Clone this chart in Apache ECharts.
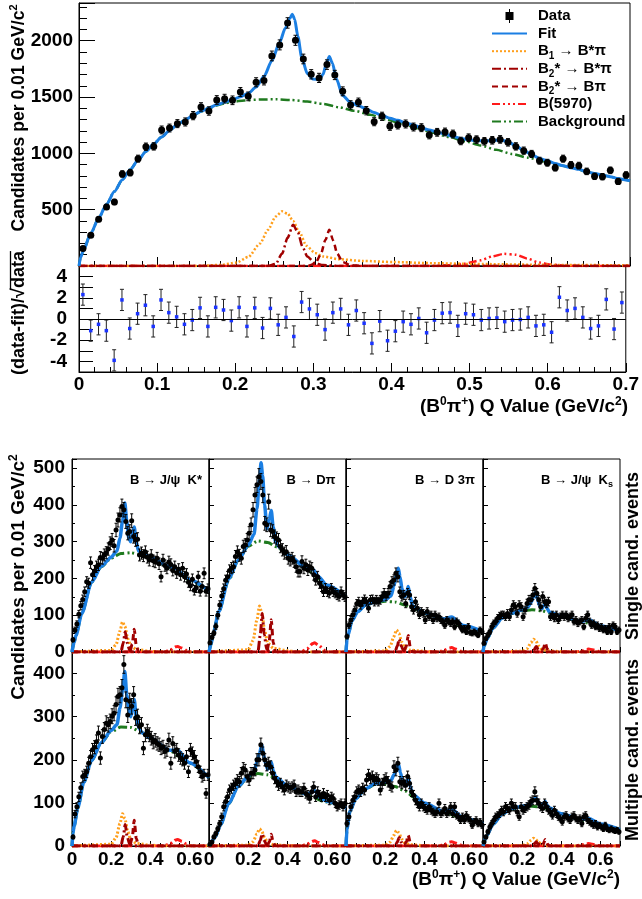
<!DOCTYPE html>
<html>
<head>
<meta charset="utf-8">
<script src="https://cdn.jsdelivr.net/npm/echarts@6/dist/echarts.min.js"></script>
<style>
html, body { margin: 0; padding: 0; background: #fff; }
#chart { width: 642px; height: 899px; }
</style>
</head>
<body>
<div id="chart"></div>
<script>
var FONT = '"Liberation Sans", Arial, Helvetica, "DejaVu Sans", sans-serif';
var BLUE = '#1b7fe3', GREEN = '#1f7a1f', ORANGE = '#ff9f1c', DARKRED = '#a00000', RED = '#ff1a1a';

// bin centres, Q value (GeV/c^2)
var qBins = [0.005,0.015,0.025,0.035,0.045,0.055,0.065,0.075,0.085,0.095,
  0.105,0.115,0.125,0.135,0.145,0.155,0.165,0.175,0.185,0.195,
  0.205,0.215,0.225,0.235,0.245,0.255,0.265,0.275,0.285,0.295,
  0.305,0.315,0.325,0.335,0.345,0.355,0.365,0.375,0.385,0.395,
  0.405,0.415,0.425,0.435,0.445,0.455,0.465,0.475,0.485,0.495,
  0.505,0.515,0.525,0.535,0.545,0.555,0.565,0.575,0.585,0.595,
  0.605,0.615,0.625,0.635,0.645,0.655,0.665,0.675,0.685,0.695];

// ---- top panel: all modes combined
var mainCounts = [156,272,414,524,568,817,829,953,1059,1062,
  1208,1225,1264,1279,1335,1412,1376,1474,1486,1471,
  1545,1506,1631,1648,1865,1963,2158,2004,1838,1702,
  1670,1788,1696,1551,1430,1453,1379,1281,1329,1240,
  1252,1261,1234,1228,1163,1187,1190,1172,1110,1139,
  1122,1107,1116,1124,1098,1062,1024,995,935,917,
  873,953,897,891,840,796,793,849,751,808];
var mainResid = [2.3,-1.1,-0.5,-1.1,-3.9,1.8,-0.9,0.5,1.3,-0.7,
  1.8,0.6,0.2,-0.5,-0.1,1.05,-0.7,1.1,0.85,-0.15,
  1.1,-0.7,1.05,-0.85,1.0,-0.55,0.15,-1.65,1.6,0.95,
  0.4,-1.0,0.6,0.95,-0.55,0.8,-0.4,-2.3,-0.2,-2.05,
  -1.15,-0.25,-0.5,0.05,-1.3,-0.1,0.55,0.6,-0.65,0.5,
  0.4,-0.1,0.05,0.1,-0.25,-0.1,-0.05,0.15,-0.65,-0.55,
  -1.25,2.05,0.8,1.0,0.15,-0.9,-0.65,1.85,-0.95,1.55];
var mainFit = [[0,0],[0.002,75],[0.005,127],[0.015,290],[0.025,424],[0.035,549],[0.045,661],[0.055,766],[0.065,855],[0.075,938],
  [0.085,1017],[0.095,1085],[0.105,1145],[0.115,1204],[0.125,1257],[0.135,1297],[0.145,1339],[0.155,1373],[0.165,1402],[0.175,1432],
  [0.185,1453],[0.195,1477],[0.205,1502],[0.215,1533],[0.225,1589],[0.235,1683],[0.245,1822],[0.255,1987],[0.262,2110],[0.268,2200],
  [0.271,2235],[0.274,2190],[0.278,2040],[0.283,1850],[0.29,1710],[0.297,1660],[0.305,1654],[0.31,1700],[0.314,1790],[0.318,1860],
  [0.322,1800],[0.327,1660],[0.335,1514],[0.345,1451],[0.355,1423],[0.365,1394],[0.375,1363],[0.385,1336],[0.395,1312],[0.405,1293],
  [0.415,1270],[0.425,1252],[0.435,1226],[0.445,1207],[0.455,1190],[0.465,1171],[0.475,1151],[0.485,1132],[0.495,1122],[0.505,1112],
  [0.515,1110],[0.525,1114],[0.535,1118],[0.545,1106],[0.555,1065],[0.565,1026],[0.575,990],[0.585,955],[0.595,934],[0.605,910],
  [0.615,890],[0.625,873],[0.635,858],[0.645,836],[0.655,821],[0.665,808],[0.675,793],[0.685,777],[0.695,764],[0.7,757]];
var mainBkg = [[0,0],[0.002,75],[0.005,127],[0.015,290],[0.025,424],[0.035,549],[0.045,661],[0.055,766],[0.065,855],[0.075,938],
  [0.085,1017],[0.095,1085],[0.105,1145],[0.115,1204],[0.125,1257],[0.135,1297],[0.145,1339],[0.155,1372],[0.165,1400],[0.175,1426],
  [0.185,1444],[0.195,1458],[0.21,1470],[0.23,1478],[0.25,1480],[0.27,1474],[0.29,1460],[0.31,1440],[0.33,1410],[0.35,1378],
  [0.37,1343],[0.39,1300],[0.41,1266],[0.43,1222],[0.45,1182],[0.47,1145],[0.49,1108],[0.51,1070],[0.53,1032],[0.55,995],
  [0.57,962],[0.59,930],[0.61,897],[0.63,864],[0.65,826],[0.67,800],[0.69,771],[0.7,757]];
var mainB1 = [[0,0],[0.15,0],[0.18,10],[0.2,30],[0.215,80],[0.23,200],[0.24,320],[0.25,440],[0.258,485],[0.265,465],
  [0.272,400],[0.28,300],[0.289,180],[0.3,115],[0.31,85],[0.33,60],[0.36,45],[0.4,35],[0.45,25],[0.5,18],[0.6,10],[0.7,6]];
var mainB2BsPi = [[0,0],[0.24,0],[0.25,20],[0.258,110],[0.265,250],[0.272,367],[0.278,300],[0.284,170],[0.29,85],[0.3,25],[0.31,8],[0.33,0],[0.7,0]];
var mainB2BPi = [[0,0],[0.29,0],[0.3,20],[0.307,100],[0.313,230],[0.318,322],[0.323,225],[0.328,110],[0.335,35],[0.345,8],[0.36,0],[0.7,0]];
var mainB5970 = [[0,0],[0.45,0],[0.47,6],[0.49,20],[0.51,50],[0.525,85],[0.54,108],[0.555,100],[0.57,65],[0.585,30],[0.6,12],[0.62,3],[0.64,0],[0.7,0]];

// ---- lower panels: J/psi K*, D pi, D 3pi, J/psi Ks
var panelTitles = ['B → J/ψ  K*', 'B → Dπ', 'B → D 3π', 'B → J/ψ  K'];

var singleCounts = [
  [33,60,76,103,126,143,164,191,187,243,210,220,232,237,257,255,264,270,280,296,
   305,289,332,359,373,396,387,355,323,328,357,314,305,307,264,269,262,272,258,250,
   262,248,245,255,240,205,250,235,228,245,238,222,232,215,225,210,228,205,212,190,
   180,198,168,175,205,165,178,214,165,172],
  [25,40,52,70,100,128,152,172,195,205,222,228,232,260,272,263,255,287,291,305,
   323,346,387,427,455,477,464,427,350,346,409,332,328,314,309,305,287,278,269,273,
   255,250,255,246,232,219,219,246,228,237,223,232,228,210,196,205,187,178,164,173,
   164,160,173,164,160,155,151,164,155,150],
  [42,73,87,101,114,131,137,128,137,143,137,119,142,143,137,142,137,142,151,160,
   152,160,178,191,196,214,205,164,151,155,132,160,155,123,114,137,119,101,110,105,
   87,110,96,101,87,101,92,96,87,83,73,87,83,78,83,69,83,78,69,60,
   64,55,69,53,51,55,51,46,60,55],
  [24,37,46,55,69,78,83,92,98,101,101,96,105,96,114,128,123,105,128,123,
   96,114,132,142,142,155,173,160,142,123,151,137,132,137,96,101,92,101,87,96,
   101,96,101,92,96,101,83,87,78,83,87,69,92,101,83,73,78,69,73,64,
   69,60,64,55,69,55,73,69,55,60]
];
var multipleCounts = [
  [21,74,91,114,135,161,165,172,192,207,223,229,242,262,204,254,270,285,281,289,
   301,308,328,347,351,367,421,339,304,336,324,351,297,300,277,281,227,258,266,258,
   250,241,245,238,235,227,230,219,223,246,192,238,219,223,211,204,200,192,207,172,
   223,215,207,196,184,172,161,165,122,165],
  [4,9,21,29,40,52,68,91,103,114,130,134,141,145,153,149,169,180,176,161,
   153,169,169,176,200,200,235,215,200,188,192,184,169,157,149,141,145,137,130,141,
   137,134,137,141,126,130,126,126,134,122,118,110,126,137,114,126,118,114,122,114,
   118,106,114,110,99,91,95,99,91,99],
  [52,68,91,106,114,126,130,126,134,130,153,165,157,161,153,157,153,130,145,153,
   157,149,141,137,184,176,192,149,145,149,141,161,145,126,118,106,99,91,99,91,
   87,83,91,83,79,75,79,99,75,79,87,75,79,91,75,91,71,68,60,68,
   60,71,64,60,48,56,60,52,56,48],
  [9,21,33,44,52,60,68,71,75,83,79,91,87,83,99,91,91,79,68,91,
   83,87,91,95,103,106,126,106,99,91,87,99,91,83,79,71,83,75,68,64,
   56,68,71,64,60,68,71,64,60,64,52,68,71,60,56,52,48,52,44,48,
   44,40,48,40,37,40,37,35,37,33]
];

var singleFit = [
  [[0,0],[0.01,25],[0.02,45],[0.05,105],[0.1,190],[0.15,233],[0.2,258],[0.23,275],[0.245,310],[0.258,355],[0.27,405],[0.28,355],[0.29,310],[0.3,300],[0.31,325],[0.318,340],[0.328,300],[0.34,275],[0.36,268],[0.4,258],[0.5,232],[0.52,230],[0.54,225],[0.56,213],[0.6,197],[0.7,165]],
  [[0,0],[0.01,20],[0.02,45],[0.05,110],[0.1,198],[0.15,250],[0.2,290],[0.23,320],[0.245,390],[0.258,470],[0.266,515],[0.274,480],[0.284,400],[0.296,335],[0.308,360],[0.318,385],[0.328,340],[0.34,300],[0.36,285],[0.4,265],[0.5,228],[0.53,225],[0.56,205],[0.6,182],[0.7,150]],
  [[0,0],[0.005,35],[0.01,45],[0.03,85],[0.06,110],[0.1,128],[0.15,136],[0.2,142],[0.23,152],[0.245,180],[0.258,210],[0.267,228],[0.276,205],[0.286,172],[0.3,150],[0.31,162],[0.318,178],[0.328,150],[0.34,125],[0.4,107],[0.5,90],[0.54,95],[0.6,72],[0.7,55]],
  [[0,0],[0.005,15],[0.02,35],[0.05,65],[0.1,93],[0.15,106],[0.2,114],[0.23,122],[0.245,135],[0.258,150],[0.268,162],[0.278,145],[0.29,125],[0.3,118],[0.31,125],[0.318,135],[0.328,118],[0.34,108],[0.4,98],[0.5,83],[0.54,88],[0.6,71],[0.7,58]]
];
var singleBkg = [
  [[0,0],[0.01,25],[0.02,45],[0.05,105],[0.1,190],[0.15,232],[0.2,255],[0.25,268],[0.3,270],[0.35,265],[0.4,255],[0.5,230],[0.55,213],[0.6,195],[0.7,165]],
  [[0,0],[0.01,20],[0.02,45],[0.05,110],[0.1,195],[0.15,250],[0.2,288],[0.25,302],[0.3,298],[0.35,285],[0.4,265],[0.5,225],[0.55,203],[0.6,182],[0.7,150]],
  [[0,0],[0.005,35],[0.01,45],[0.03,85],[0.06,110],[0.1,128],[0.15,135],[0.2,138],[0.25,136],[0.3,128],[0.35,117],[0.4,105],[0.5,87],[0.6,70],[0.7,55]],
  [[0,0],[0.005,15],[0.02,35],[0.05,65],[0.1,93],[0.15,105],[0.2,112],[0.25,115],[0.3,112],[0.35,105],[0.4,97],[0.5,82],[0.6,70],[0.7,58]]
];
var singleB1 = [
  [[0,0],[0.2,4],[0.225,20],[0.245,57],[0.258,82],[0.27,70],[0.285,37],[0.3,16],[0.33,7],[0.4,2],[0.45,0],[0.7,0]],
  [[0,0],[0.2,6],[0.225,31],[0.245,88],[0.258,125],[0.27,106],[0.285,56],[0.3,25],[0.33,10],[0.4,4],[0.45,0],[0.7,0]],
  [[0,0],[0.2,3],[0.225,15],[0.245,42],[0.258,60],[0.27,51],[0.285,27],[0.3,12],[0.33,5],[0.4,2],[0.45,0],[0.7,0]],
  [[0,0],[0.2,2],[0.225,9],[0.245,25],[0.258,35],[0.27,30],[0.285,16],[0.3,7],[0.33,3],[0.4,1],[0.45,0],[0.7,0]]
];
var singleB2BsPi = [
  [[0,0],[0.25,0],[0.262,25],[0.272,55],[0.282,25],[0.295,4],[0.31,0],[0.7,0]],
  [[0,0],[0.25,0],[0.262,47],[0.272,105],[0.282,47],[0.295,8],[0.31,0],[0.7,0]],
  [[0,0],[0.25,0],[0.262,16],[0.272,35],[0.282,16],[0.295,3],[0.31,0],[0.7,0]],
  [[0,0],[0.25,0],[0.262,7],[0.272,15],[0.282,7],[0.295,1],[0.31,0],[0.7,0]]
];
var singleB2BPi = [
  [[0,0],[0.295,0],[0.308,22],[0.318,62],[0.328,19],[0.34,0],[0.7,0]],
  [[0,0],[0.295,0],[0.308,31],[0.318,88],[0.328,26],[0.34,0],[0.7,0]],
  [[0,0],[0.295,0],[0.308,16],[0.318,45],[0.328,14],[0.34,0],[0.7,0]],
  [[0,0],[0.295,0],[0.308,9],[0.318,25],[0.328,8],[0.34,0],[0.7,0]]
];
var singleB5970 = [
  [[0,0],[0.47,0],[0.5,5],[0.53,14],[0.54,15],[0.56,11],[0.59,3],[0.61,0],[0.7,0]],
  [[0,0],[0.47,0],[0.5,8],[0.53,23],[0.54,25],[0.56,18],[0.59,5],[0.61,0],[0.7,0]],
  [[0,0],[0.47,0],[0.5,4],[0.53,11],[0.54,12],[0.56,8],[0.59,2],[0.61,0],[0.7,0]],
  [[0,0],[0.47,0],[0.5,2],[0.53,7],[0.54,8],[0.56,6],[0.59,2],[0.61,0],[0.7,0]]
];

var multipleFit = [
  [[0,0],[0.005,30],[0.01,45],[0.03,90],[0.06,148],[0.1,198],[0.15,240],[0.2,268],[0.23,282],[0.245,320],[0.258,360],[0.27,405],[0.28,350],[0.29,315],[0.3,300],[0.31,320],[0.318,340],[0.328,300],[0.34,275],[0.36,262],[0.4,250],[0.5,222],[0.54,222],[0.6,193],[0.7,158]],
  [[0,0],[0.01,8],[0.03,20],[0.06,50],[0.1,98],[0.15,138],[0.2,162],[0.23,172],[0.245,195],[0.258,215],[0.27,235],[0.28,210],[0.29,190],[0.3,178],[0.31,185],[0.318,195],[0.328,175],[0.34,160],[0.4,140],[0.5,120],[0.54,128],[0.57,112],[0.6,104],[0.7,88]],
  [[0,0],[0.005,40],[0.02,80],[0.05,110],[0.1,133],[0.15,145],[0.2,148],[0.23,152],[0.245,165],[0.258,178],[0.268,190],[0.278,170],[0.29,150],[0.3,140],[0.31,148],[0.318,158],[0.328,138],[0.34,120],[0.4,100],[0.5,80],[0.54,85],[0.6,65],[0.7,52]],
  [[0,0],[0.02,25],[0.05,50],[0.1,75],[0.15,87],[0.2,92],[0.24,96],[0.258,108],[0.27,112],[0.28,104],[0.29,95],[0.31,98],[0.318,103],[0.328,94],[0.34,88],[0.4,75],[0.5,61],[0.54,64],[0.6,51],[0.7,38]]
];
var multipleBkg = [
  [[0,0],[0.005,30],[0.01,45],[0.03,88],[0.06,148],[0.1,198],[0.15,240],[0.2,265],[0.25,276],[0.3,275],[0.35,265],[0.4,250],[0.5,220],[0.6,192],[0.7,158]],
  [[0,0],[0.01,8],[0.03,20],[0.06,50],[0.1,98],[0.15,138],[0.2,160],[0.25,168],[0.3,165],[0.35,155],[0.4,138],[0.5,118],[0.6,102],[0.7,88]],
  [[0,0],[0.005,40],[0.02,80],[0.05,110],[0.1,132],[0.15,143],[0.2,143],[0.25,138],[0.3,128],[0.35,112],[0.4,98],[0.5,78],[0.6,64],[0.7,52]],
  [[0,0],[0.02,25],[0.05,50],[0.1,74],[0.15,86],[0.2,90],[0.25,92],[0.3,90],[0.35,84],[0.4,75],[0.5,60],[0.6,50],[0.7,38]]
];
var multipleB1 = [
  [[0,0],[0.2,4],[0.225,19],[0.245,52],[0.258,75],[0.27,64],[0.285,34],[0.3,15],[0.33,6],[0.4,2],[0.45,0],[0.7,0]],
  [[0,0],[0.2,2],[0.225,10],[0.245,28],[0.258,40],[0.27,34],[0.285,18],[0.3,8],[0.33,3],[0.4,1],[0.45,0],[0.7,0]],
  [[0,0],[0.2,2],[0.225,9],[0.245,25],[0.258,36],[0.27,31],[0.285,16],[0.3,7],[0.33,3],[0.4,1],[0.45,0],[0.7,0]],
  [[0,0],[0.2,1],[0.225,5],[0.245,13],[0.258,18],[0.27,15],[0.285,8],[0.3,4],[0.33,1],[0.4,0],[0.7,0]]
];
var multipleB2BsPi = [
  [[0,0],[0.25,0],[0.262,22],[0.272,50],[0.282,22],[0.295,4],[0.31,0],[0.7,0]],
  [[0,0],[0.25,0],[0.262,13],[0.272,28],[0.282,13],[0.295,2],[0.31,0],[0.7,0]],
  [[0,0],[0.25,0],[0.262,9],[0.272,20],[0.282,9],[0.295,2],[0.31,0],[0.7,0]],
  [[0,0],[0.25,0],[0.262,5],[0.272,10],[0.282,5],[0.295,1],[0.31,0],[0.7,0]]
];
var multipleB2BPi = [
  [[0,0],[0.295,0],[0.308,21],[0.318,60],[0.328,18],[0.34,0],[0.7,0]],
  [[0,0],[0.295,0],[0.308,9],[0.318,27],[0.328,8],[0.34,0],[0.7,0]],
  [[0,0],[0.295,0],[0.308,9],[0.318,25],[0.328,8],[0.34,0],[0.7,0]],
  [[0,0],[0.295,0],[0.308,5],[0.318,15],[0.328,5],[0.34,0],[0.7,0]]
];
var multipleB5970 = [
  [[0,0],[0.47,0],[0.5,5],[0.53,14],[0.54,15],[0.56,11],[0.59,3],[0.61,0],[0.7,0]],
  [[0,0],[0.47,0],[0.5,4],[0.53,11],[0.54,12],[0.56,8],[0.59,2],[0.61,0],[0.7,0]],
  [[0,0],[0.47,0],[0.5,3],[0.53,9],[0.54,10],[0.56,7],[0.59,2],[0.61,0],[0.7,0]],
  [[0,0],[0.47,0],[0.5,2],[0.53,5],[0.54,6],[0.56,4],[0.59,1],[0.61,0],[0.7,0]]
];

// ---------------------------------------------------------------
var chart = echarts.init(document.getElementById('chart'));
var grids = [], xAxes = [], yAxes = [], series = [];

function axisBase() {
    return {
        type: 'value',
        splitLine: { show: false },
        axisLine: { show: true, onZero: false, lineStyle: { color: '#000', width: 1 } }
    };
}

function addPanel(box, xCfg, yCfg) {
    var gi = grids.length;
    grids.push({ left: box[0], top: box[1], width: box[2], height: box[3],
                 show: true, borderColor: '#000', borderWidth: 1 });
    xAxes.push(Object.assign(axisBase(), { gridIndex: gi }, xCfg));
    yAxes.push(Object.assign(axisBase(), { gridIndex: gi }, yCfg));
    return gi;
}

function tick(len, minorSplit, minorLen) {
    return {
        axisTick: { show: true, inside: true, length: len, lineStyle: { color: '#000' } },
        minorTick: { show: !!minorSplit, splitNumber: minorSplit || 5, length: minorLen || 0, lineStyle: { color: '#000' } }
    };
}

function plainNumber(v) { return String(v); }

function label(show, size, margin, extra) {
    return Object.assign({ show: show, fontSize: size, fontWeight: 'bold', fontFamily: FONT, color: '#000',
                           margin: margin, formatter: plainNumber }, extra || {});
}

function errorBars(gi, pts, cap, color) {
    return {
        type: 'custom', name: 'Data', xAxisIndex: gi, yAxisIndex: gi, z: 3, silent: true, clip: true,
        encode: { x: 0, y: 1 },
        data: pts,
        renderItem: function (params, api) {
            var x = api.value(0), y = api.value(1), e = api.value(2);
            var lo = api.coord([x, y - e]), hi = api.coord([x, y + e]);
            var st = { stroke: color, lineWidth: 1 };
            return { type: 'group', children: [
                { type: 'line', shape: { x1: lo[0], y1: lo[1], x2: hi[0], y2: hi[1] }, style: st },
                { type: 'line', shape: { x1: lo[0] - cap, y1: lo[1], x2: lo[0] + cap, y2: lo[1] }, style: st },
                { type: 'line', shape: { x1: hi[0] - cap, y1: hi[1], x2: hi[0] + cap, y2: hi[1] }, style: st }
            ] };
        }
    };
}

function points(gi, pts, symbol, size, color) {
    return { type: 'scatter', name: 'Data', xAxisIndex: gi, yAxisIndex: gi, z: 4, silent: true,
             symbol: symbol, symbolSize: size, itemStyle: { color: color, opacity: 1 }, data: pts };
}

function curve(gi, name, pts, color, width, dash, z) {
    return { type: 'line', name: name, xAxisIndex: gi, yAxisIndex: gi, data: pts,
             symbol: 'none', smooth: 0.25, smoothMonotone: 'x', silent: true, z: z, clip: true,
             lineStyle: { color: color, width: width, type: dash }, itemStyle: { color: color } };
}

function histogram(gi, counts, size, cap) {
    series.push(errorBars(gi, qBins.map(function (q, i) { return [q, counts[i], Math.sqrt(counts[i])]; }), cap, '#000'));
    series.push(points(gi, qBins.map(function (q, i) { return [q, counts[i]]; }), 'circle', size, '#000'));
}

var DASH_B1 = [2, 2], DASH_B2BS = [9, 3, 2, 3], DASH_B2B = [6, 4], DASH_B59 = [8, 3, 2, 3, 2, 3, 2, 3], DASH_BKG = [9, 3, 2, 3, 2, 3];

function components(gi, fit, bkg, b1, b2bs, b2b, b59, w) {
    series.push(curve(gi, 'B5970', b59, RED, w, DASH_B59, 1));
    series.push(curve(gi, 'B1', b1, ORANGE, w, DASH_B1, 1));
    series.push(curve(gi, 'B2sBsPi', b2bs, DARKRED, w, DASH_B2BS, 1));
    series.push(curve(gi, 'B2sBPi', b2b, DARKRED, w, DASH_B2B, 1));
    series.push(curve(gi, 'Background', bkg, GREEN, w, DASH_BKG, 2));
    series.push(curve(gi, 'Fit', fit, BLUE, w + 0.5, 'solid', 2));
}

// ---- top panel
var gMain = addPanel([79, 3, 551, 263],
    Object.assign({ min: 0, max: 0.7, interval: 0.1, axisLabel: label(false, 19, 2) }, tick(9, 5, 5)),
    Object.assign({ min: 0, max: 2335, interval: 500,
        axisLabel: label(true, 19, 6, { showMinLabel: false, showMaxLabel: false }) }, tick(16, 5, 8)));
components(gMain, mainFit, mainBkg, mainB1, mainB2BsPi, mainB2BPi, mainB5970, 2.5);
histogram(gMain, mainCounts, 7, 2);

// ---- residual panel
var gRes = addPanel([79, 266, 551, 106],
    Object.assign({ min: 0, max: 0.7, interval: 0.1, axisLabel: label(true, 19, 3) }, tick(9, 5, 5)),
    Object.assign({ min: -5, max: 5, interval: 1,
        axisLabel: label(true, 19, 12, { formatter: function (v) { return (v % 2 === 0 && Math.abs(v) < 5) ? String(v) : ''; } }) },
        tick(14)));
series.push(errorBars(gRes, qBins.map(function (q, i) { return [q, mainResid[i], 1]; }), 2, '#222'));
var resPts = points(gRes, qBins.map(function (q, i) { return [q, mainResid[i]]; }), 'rect', 3.5, '#1a33ff');
resPts.markLine = { silent: true, symbol: 'none', label: { show: false }, animation: false,
                    lineStyle: { color: '#000', width: 1, type: 'solid' }, data: [{ yAxis: 0 }] };
series.push(resPts);

// ---- 2 x 4 panels
var panelLefts = [72, 209, 346, 483], panelW = 137;
function smallPanel(row, col, counts, fit, bkg, b1, b2bs, b2b, b59) {
    var top = row === 0 ? 459 : 652, h = row === 0 ? 193 : 194, ymax = row === 0 ? 525 : 450;
    var gi = addPanel([panelLefts[col], top, panelW, h],
        Object.assign({ min: 0, max: 0.7, interval: 0.2,
            axisLabel: label(row === 1, 19, 4, { showMaxLabel: false }) }, tick(5, 4, 3)),
        Object.assign({ min: 0, max: ymax, interval: 100,
            axisLabel: label(col === 0, 19, 7, { showMaxLabel: false }) }, tick(5, 2, 3)));
    components(gi, fit, bkg, b1, b2bs, b2b, b59, 3);
    histogram(gi, counts, 5, 1.5);
}
for (var c = 0; c < 4; c++) {
    smallPanel(0, c, singleCounts[c], singleFit[c], singleBkg[c], singleB1[c], singleB2BsPi[c], singleB2BPi[c], singleB5970[c]);
}
for (var c2 = 0; c2 < 4; c2++) {
    smallPanel(1, c2, multipleCounts[c2], multipleFit[c2], multipleBkg[c2], multipleB1[c2], multipleB2BsPi[c2], multipleB2BPi[c2], multipleB5970[c2]);
}

// ---- texts
function rich(size) {
    return {
        m:   { fontSize: size, fontWeight: 'bold', fontFamily: FONT, fill: '#000', lineHeight: 22 },
        sup: { fontSize: Math.round(size * 0.65), fontWeight: 'bold', fontFamily: FONT, fill: '#000', lineHeight: 10, verticalAlign: 'top' },
        s:   { fontSize: 9, fontWeight: 'bold', fontFamily: FONT, fill: '#000', lineHeight: 6, verticalAlign: 'bottom' },
        t:   { fontSize: 13, fontWeight: 'bold', fontFamily: FONT, fill: '#000', lineHeight: 18 }
    };
}
function text(x, y, str, size, align, rot) {
    return { type: 'text', x: x, y: y, rotation: rot || 0, silent: true,
             style: { text: str, fill: '#000', fontSize: size, fontWeight: 'bold', fontFamily: FONT,
                      align: align || 'center', verticalAlign: 'middle', rich: rich(size) } };
}
var yTitle = '{m|Candidates per 0.01 GeV/c}{sup|2}';
var xTitle = '{m|(B}{sup|0}{m|π}{sup|+}{m|) Q Value (GeV/c}{sup|2}{m|)}';

var measure = document.createElement('canvas').getContext('2d');
measure.font = 'bold 18px ' + FONT;
var wHead = measure.measureText('(data-fit)/√').width, wData = measure.measureText('data').width;
var wAll = wHead + wData;

var graphics = [
    text(19, 118, yTitle, 17.6, 'center', Math.PI / 2),
    { type: 'group', x: 19, y: 313, rotation: Math.PI / 2, silent: true, children: [
        { type: 'text', x: 0, y: 0, style: { text: '(data-fit)/√data', fill: '#000', fontSize: 18, fontWeight: 'bold',
          fontFamily: FONT, align: 'center', verticalAlign: 'middle' } },
        { type: 'line', shape: { x1: -wAll / 2 + wHead - 2, y1: -8.5, x2: wAll / 2, y2: -8.5 },
          style: { stroke: '#000', lineWidth: 1.3 } }
    ] },
    text(628, 407, xTitle, 19, 'right'),
    text(19, 577, yTitle, 19, 'center', Math.PI / 2),
    text(620, 880, xTitle, 19, 'right'),
    text(633, 556, '{m|Single cand. events}', 18, 'center', Math.PI / 2),
    text(633, 750, '{m|Multiple cand. events}', 18, 'center', Math.PI / 2),
    text(166, 480, '{t|' + panelTitles[0] + '}', 13),
    text(311, 480, '{t|' + panelTitles[1] + '}', 13),
    text(445, 480, '{t|' + panelTitles[2] + '}', 13),
    text(577, 480, '{t|' + panelTitles[3] + '}{s|s}', 13)
];

var legendText = {
    'Data': '{g|}{l|Data}', 'Fit': '{g|}{l|Fit}',
    'B1': '{g|}{l|B}{lsub|1}{l| → B*π}',
    'B2sBsPi': '{g|}{l|B}{lsub|2}{l|* → B*π}',
    'B2sBPi': '{g|}{l|B}{lsub|2}{l|* → Bπ}',
    'B5970': '{g|}{l|B(5970)}', 'Background': '{g|}{l|Background}'
};
var hideDot = { opacity: 0 };

chart.setOption({
    animation: false,
    backgroundColor: '#fff',
    grid: grids,
    xAxis: xAxes,
    yAxis: yAxes,
    series: series,
    graphic: graphics,
    legend: {
        left: 491, top: 6, orient: 'vertical', padding: 0, itemWidth: 35, itemHeight: 14, itemGap: -2.4,
        selectedMode: false, symbolKeepAspect: true,
        textStyle: { fontFamily: FONT, fontWeight: 'bold', fontSize: 15, color: '#000', lineHeight: 20,
            rich: {
                g:    { width: 6, lineHeight: 20 },
                l:    { fontFamily: FONT, fontWeight: 'bold', fontSize: 15, color: '#000', lineHeight: 20 },
                lsub: { fontFamily: FONT, fontWeight: 'bold', fontSize: 10, color: '#000', lineHeight: 4, verticalAlign: 'bottom' }
            } },
        formatter: function (name) { return legendText[name]; },
        data: [
            { name: 'Data', icon: 'path://M0,3H8V11H0Z M3.5,0H4.5V14H3.5Z', itemStyle: { color: '#000' } },
            { name: 'Fit', itemStyle: hideDot },
            { name: 'B1', itemStyle: hideDot },
            { name: 'B2sBsPi', itemStyle: hideDot },
            { name: 'B2sBPi', itemStyle: hideDot },
            { name: 'B5970', itemStyle: hideDot },
            { name: 'Background', itemStyle: hideDot }
        ]
    }
});
</script>
</body>
</html>
